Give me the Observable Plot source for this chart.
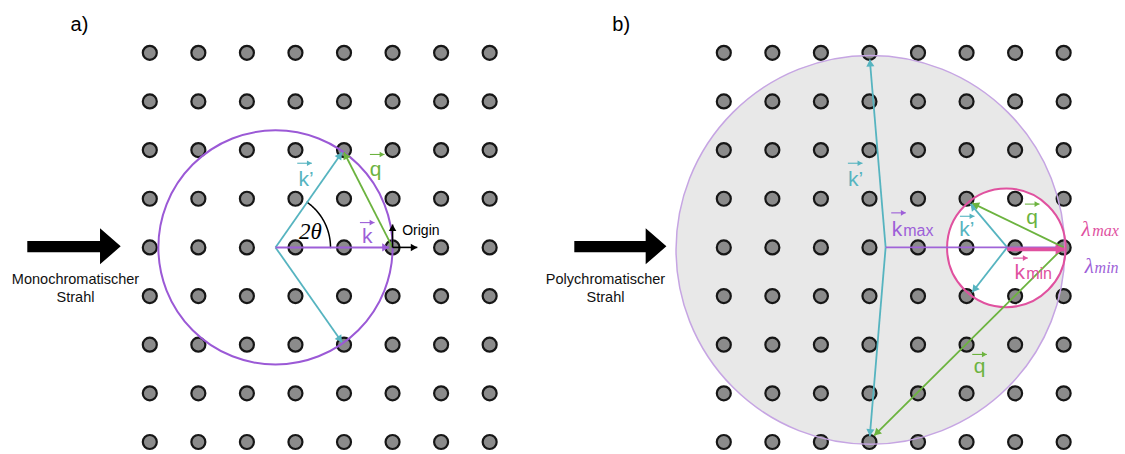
<!DOCTYPE html>
<html><head><meta charset="utf-8">
<script src="https://cdn.jsdelivr.net/npm/d3@7"></script>
<script src="https://cdn.jsdelivr.net/npm/@observablehq/plot@0.6"></script>
<style>body{margin:0;background:#fff}</style>
</head><body><div id="chart"></div>
<script>
// ---- data (lattice units: 1 unit = one reciprocal-lattice spacing) ----
const latticeCols = [0, 1, 2, 3, 4, 5, 6, 7];
const latticeRows = [0, 1, 2, 3, 4, 5, 6, 7, 8];
const panelOffsets = [0, 11.823];

const panelTitles = [
  {text: "a)", x: -1.448, y: -0.582},
  {text: "b)", x: 9.709, y: -0.582}
];
const beamTexts = [
  {text: "Monochromatischer\nStrahl", x: -1.53, y: 4.824},
  {text: "Polychromatischer\nStrahl", x: 9.386, y: 4.824}
];
const beamArrowA = [
  {x: -2.513, y1: 3.879, y2: 4.111}, {x: -1.015, y1: 3.879, y2: 4.111},
  {x: -1.015, y1: 3.618, y2: 4.358}, {x: -0.589, y1: 3.988, y2: 3.988}
];
const beamArrowB = [
  {x: 8.754, y1: 3.879, y2: 4.111}, {x: 10.224, y1: 3.879, y2: 4.111},
  {x: 10.224, y1: 3.618, y2: 4.358}, {x: 10.651, y1: 3.988, y2: 3.988}
];

const ewaldA = {cx: 2.589, cy: 4.0, r: 2.41};
const ewaldBig = {cx: 14.843, cy: 4.05, r: 4.0};
const ewaldSmall = {cx: 17.643, cy: 4.01, r: 1.22};

const vectors = [
  // panel a
  {kind: "kp", x1: 2.589, y1: 4, x2: 3.959, y2: 2.049},
  {kind: "kp", x1: 2.589, y1: 4, x2: 3.959, y2: 5.951},
  {kind: "k", x1: 2.589, y1: 4, x2: 4.93, y2: 4},
  {kind: "q", x1: 5, y1: 4, x2: 3.999, y2: 2.044},
  {kind: "axis", x1: 5, y1: 4, x2: 5, y2: 3.53},
  {kind: "axis", x1: 5, y1: 4, x2: 5.51, y2: 4},
  // panel b
  {kind: "kmax", x1: 15.156, y1: 4, x2: 18.723, y2: 4},
  {kind: "kp", x1: 15.156, y1: 4, x2: 14.83, y2: 0.138},
  {kind: "kp", x1: 15.156, y1: 4, x2: 14.83, y2: 7.88},
  {kind: "kp", x1: 17.66, y1: 4, x2: 16.904, y2: 3.104},
  {kind: "kp", x1: 17.66, y1: 4, x2: 16.939, y2: 4.921},
  {kind: "q", x1: 18.823, y1: 4, x2: 16.939, y2: 3.09},
  {kind: "q", x1: 18.823, y1: 4, x2: 14.919, y2: 7.867},
  {kind: "kmin", x1: 17.66, y1: 4.04, x2: 18.84, y2: 4.04}
];
const angleArc = {cx: 2.589, cy: 4.0, r: 1.133, from: 0, to: 54.9};

const labels = [
  {text: "k’", x: 3.217, y: 2.596, kind: "kp"},
  {text: "q", x: 4.651, y: 2.391, kind: "q"},
  {text: "k", x: 4.478, y: 3.762, kind: "k"},
  {text: "k’", x: 14.535, y: 2.596, kind: "kp"},
  {text: "k", x: 15.388, y: 3.624, kind: "k"},
  {text: "q", x: 18.174, y: 3.377, kind: "q"},
  {text: "k’", x: 16.828, y: 3.624, kind: "kp"},
  {text: "k", x: 17.918, y: 4.514, kind: "kmin"},
  {text: "q", x: 17.094, y: 6.44, kind: "q"}
];
const subLabels = [
  {text: "max", x: 15.52, y: 3.657, kind: "k"},
  {text: "min", x: 18.05, y: 4.547, kind: "kmin"}
];
// little vector arrows drawn above the letters
const vecArrows = [
  {x: 3.187, y: 2.27, kind: "kp"}, {x: 4.684, y: 2.09, kind: "q"}, {x: 4.478, y: 3.49, kind: "k"},
  {x: 14.529, y: 2.27, kind: "kp"}, {x: 15.421, y: 3.29, kind: "k"}, {x: 18.175, y: 3.11, kind: "q"},
  {x: 16.836, y: 3.36, kind: "kp"}, {x: 17.934, y: 4.22, kind: "kmin"}, {x: 17.09, y: 6.2, kind: "q"}
];
const lambdaLabels = [
  {text: "λ", x: 19.19, y: 3.636, kind: "kmin", size: 21},
  {text: "max", x: 19.41, y: 3.66, kind: "kmin", size: 16},
  {text: "λ", x: 19.26, y: 4.391, kind: "k", size: 21},
  {text: "min", x: 19.46, y: 4.415, kind: "k", size: 16}
];
const mathLabels = [{text: "2θ", x: 3.31, y: 3.673}];
const originLabel = [{text: "Origin", x: 5.199, y: 3.663}];

// ---- styles ----
const colors = {kp: "#56b4c0", k: "#9d5fd8", q: "#6cb33f", axis: "#000000", kmax: "#a064d8", kmin: "#e0519f"};
const widths = {kp: 1.8, k: 2, q: 1.8, axis: 1.6, kmax: 1.8, kmin: 3.6};
const heads = {kp: 3, k: 3, q: 3, axis: 2.8, kmax: 0, kmin: 3.8};
const PX = 48.6;
const sans = "'Liberation Sans', Arial, Helvetica, sans-serif";
const serif = "'Liberation Serif', 'DejaVu Serif', serif";

// ---- derived ----
const lattice = panelOffsets.flatMap(o => latticeCols.flatMap(c => latticeRows.map(r => ({x: o + c, y: r}))));
function headsOf(vs, rOf) {
  return vs.filter(v => rOf(v) > 0).map(v => {
    const dx = v.x2 - v.x1, dy = v.y2 - v.y1, L = Math.hypot(dx, dy);
    const off = 2 * 0.7776 * rOf(v) / PX;
    return {x: v.x2 - dx / L * off, y: v.y2 - dy / L * off, rot: Math.atan2(dx, -dy) * 180 / Math.PI, kind: v.kind};
  });
}
const headPts = headsOf(vectors, v => heads[v.kind]);
const miniHalf = 0.15;
const miniVecs = vecArrows.map(a => ({kind: a.kind, x1: a.x - miniHalf, y1: a.y, x2: a.x + miniHalf, y2: a.y}));
const miniHeads = headsOf(miniVecs, () => 2.1);
const arcPts = d3.range(angleArc.from, angleArc.to + 0.01, 1).concat([angleArc.to]).map(a => ({
  x: angleArc.cx + angleArc.r * Math.cos(a * Math.PI / 180),
  y: angleArc.cy - angleArc.r * Math.sin(a * Math.PI / 180)
}));
const kinds = Object.keys(colors);

const marks = [
  Plot.dot([ewaldBig], {x: "cx", y: "cy", r: "r", fill: "#e8e8e8", stroke: "none"}),
  Plot.dot([ewaldSmall], {x: "cx", y: "cy", r: "r", fill: "#ffffff", stroke: "none"}),
  Plot.dot(lattice, {x: "x", y: "y", r: 7, fill: "#8b8b8b", stroke: "#161616", strokeWidth: 2.2}),
  Plot.dot([ewaldBig], {x: "cx", y: "cy", r: "r", fill: "none", stroke: "#c6a5e3", strokeWidth: 1.5}),
  Plot.dot([ewaldSmall], {x: "cx", y: "cy", r: "r", fill: "none", stroke: "#e0519f", strokeWidth: 2}),
  Plot.dot([ewaldA], {x: "cx", y: "cy", r: "r", fill: "none", stroke: "#9b59d6", strokeWidth: 2}),
  Plot.areaY(beamArrowA, {x: "x", y1: "y1", y2: "y2", fill: "#000", curve: "linear"}),
  Plot.areaY(beamArrowB, {x: "x", y1: "y1", y2: "y2", fill: "#000", curve: "linear"}),
  Plot.line(arcPts, {x: "x", y: "y", stroke: "#000", strokeWidth: 1.5}),
  ...kinds.map(kd => Plot.link(vectors.filter(v => v.kind === kd), {
    x1: "x1", y1: "y1", x2: "x2", y2: "y2", stroke: colors[kd], strokeWidth: widths[kd]
  })),
  ...kinds.filter(kd => heads[kd] > 0).map(kd => Plot.dot(headPts.filter(h => h.kind === kd), {
    x: "x", y: "y", symbol: "triangle", r: heads[kd], rotate: "rot", fill: colors[kd], stroke: "none"
  })),
  // little arrows over the vector symbols
  ...kinds.map(kd => Plot.link(miniVecs.filter(v => v.kind === kd), {
    x1: "x1", y1: "y1", x2: "x2", y2: "y2", stroke: colors[kd], strokeWidth: 1.1
  })),
  ...kinds.map(kd => Plot.dot(miniHeads.filter(h => h.kind === kd), {
    x: "x", y: "y", symbol: "triangle", r: 2.1, rotate: "rot", fill: colors[kd], stroke: "none"
  })),
  // texts
  Plot.text(panelTitles, {x: "x", y: "y", text: "text", fontSize: 20, fontFamily: sans, fill: "#000"}),
  Plot.text(beamTexts, {x: "x", y: "y", text: "text", fontSize: 14.5, lineHeight: 1.18, fontFamily: sans, fill: "#111"}),
  Plot.text(originLabel, {x: "x", y: "y", text: "text", fontSize: 14, fontFamily: sans, textAnchor: "start", fill: "#000"}),
  Plot.text(mathLabels, {x: "x", y: "y", text: "text", fontSize: 23, fontFamily: serif, fontStyle: "italic", fill: "#000"}),
  ...kinds.map(kd => Plot.text(labels.filter(l => l.kind === kd), {
    x: "x", y: "y", text: "text", fontSize: 21, fontFamily: sans, fill: colors[kd]
  })),
  ...kinds.map(kd => Plot.text(subLabels.filter(l => l.kind === kd), {
    x: "x", y: "y", text: "text", fontSize: 16, fontFamily: sans, textAnchor: "start", fill: colors[kd]
  })),
  ...kinds.map(kd => Plot.text(lambdaLabels.filter(l => l.kind === kd), {
    x: "x", y: "y", text: "text", fontSize: "size", fontFamily: serif, fontStyle: "italic", textAnchor: "start", fill: colors[kd]
  }))
];

const chart = Plot.plot({
  width: 1125, height: 454, margin: 0,
  x: {domain: [-149.3 / 48.55, (1125 - 149.3) / 48.55], range: [0, 1125], axis: null},
  y: {domain: [-52.3 / 48.65, (454 - 52.3) / 48.65], range: [0, 454], axis: null},
  r: {type: "linear", domain: [0, 1], range: [0, PX]},
  style: {background: "#fff", fontFamily: sans},
  marks
});
document.getElementById("chart").appendChild(chart);
</script>
</body></html>
